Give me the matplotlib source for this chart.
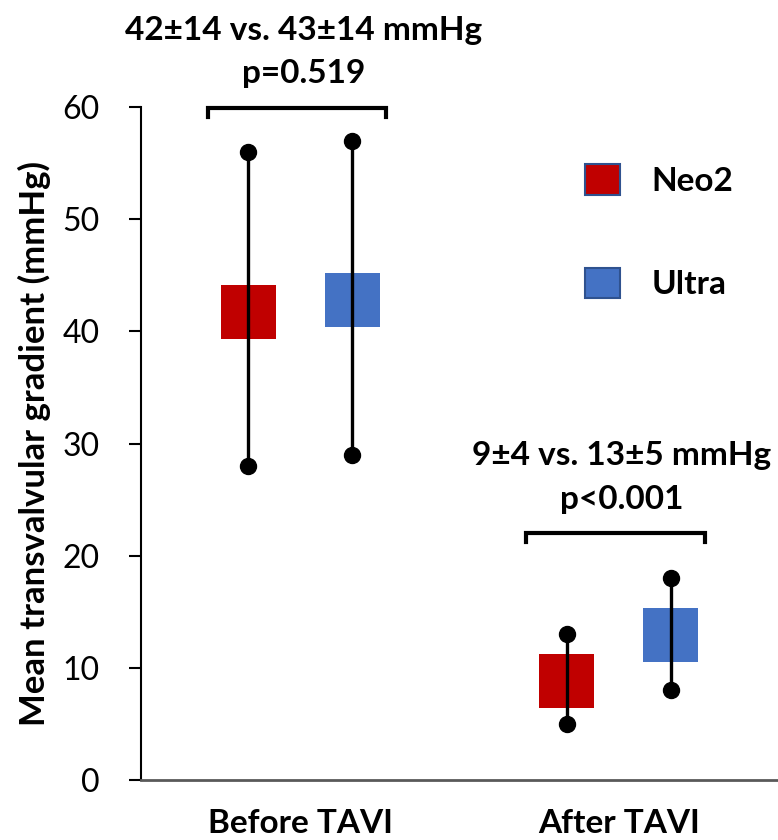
import matplotlib
matplotlib.use("Agg")
import matplotlib.pyplot as plt
from matplotlib.patches import Patch

plt.rcParams["font.family"] = ["Lato", "DejaVu Sans"]

# values
groups = ["Before TAVI", "After TAVI"]
neo2_box_low = [39.3, 6.4]
neo2_box_high = [44.1, 11.2]
neo2_min = [28, 5]
neo2_max = [56, 13]
ultra_box_low = [40.4, 10.5]
ultra_box_high = [45.2, 15.3]
ultra_min = [29, 8]
ultra_max = [57, 18]
stats_text = ["42\u00b114 vs. 43\u00b114 mmHg\np=0.519", "9\u00b14 vs. 13\u00b15 mmHg\np<0.001"]
bracket_y = [59.9, 22.0]

RED = "#C00000"
BLUE = "#4472C4"
OFFSET = 0.163
BOX_W = 0.173

fig = plt.figure(figsize=(7.78, 8.4), dpi=100)
ax = fig.add_axes([141 / 778, 60 / 840, 637 / 778, 673 / 840])

xs = range(len(groups))
for i in xs:
    for dx, lo, hi, mn, mx, col in [
        (-OFFSET, neo2_box_low, neo2_box_high, neo2_min, neo2_max, RED),
        (OFFSET, ultra_box_low, ultra_box_high, ultra_min, ultra_max, BLUE),
    ]:
        x = i + dx
        ax.bar(x, hi[i] - lo[i], bottom=lo[i], width=BOX_W, color=col, zorder=2)
        ax.plot([x, x], [mn[i], mx[i]], color="black", lw=2.4, zorder=3)
        ax.plot([x, x], [mn[i], mx[i]], "o", color="black", ms=11.5, zorder=4)

    # bracket + stats
    y = bracket_y[i]
    x0, x1 = i - 0.29, i + 0.27
    ax.plot([x0, x0, x1, x1], [y - 0.75, y, y, y - 0.75], color="black", lw=3,
            clip_on=False, solid_joinstyle="miter", zorder=5)
    ax.text(i + 0.01, y + 2.2, stats_text[i], ha="center", va="baseline",
            fontsize=24, fontweight="bold", linespacing=1.6, clip_on=False)

ax.set_xlim(-0.5, 1.5)
ax.set_ylim(0, 60)
ax.set_yticks(range(0, 61, 10))
ax.tick_params(axis="y", labelsize=23, length=9, width=1.5, pad=21)
ax.set_xticks(list(xs))
ax.set_xticklabels(groups, fontsize=24, fontweight="bold")
ax.tick_params(axis="x", length=0, pad=21)
ax.set_ylabel("Mean transvalvular gradient (mmHg)", fontsize=25, fontweight="bold", labelpad=8)

for s in ["top", "right"]:
    ax.spines[s].set_visible(False)
ax.spines["left"].set_linewidth(1.5)
ax.spines["bottom"].set_color("#595959")
ax.spines["bottom"].set_linewidth(2)

handles = [
    Patch(facecolor=RED, edgecolor="#2F528F", linewidth=1.5, label="Neo2"),
    Patch(facecolor=BLUE, edgecolor="#2F528F", linewidth=1.5, label="Ultra"),
]
fig.legend(handles=handles, loc="upper left", bbox_to_anchor=(585 / 778, 1 - 164 / 840),
           frameon=False, borderpad=0, borderaxespad=0, handlelength=1.05,
           handleheight=1.05, handletextpad=0.95, labelspacing=2.15,
           prop={"size": 24, "weight": "bold"})

fig.savefig("out.png", dpi=100)
